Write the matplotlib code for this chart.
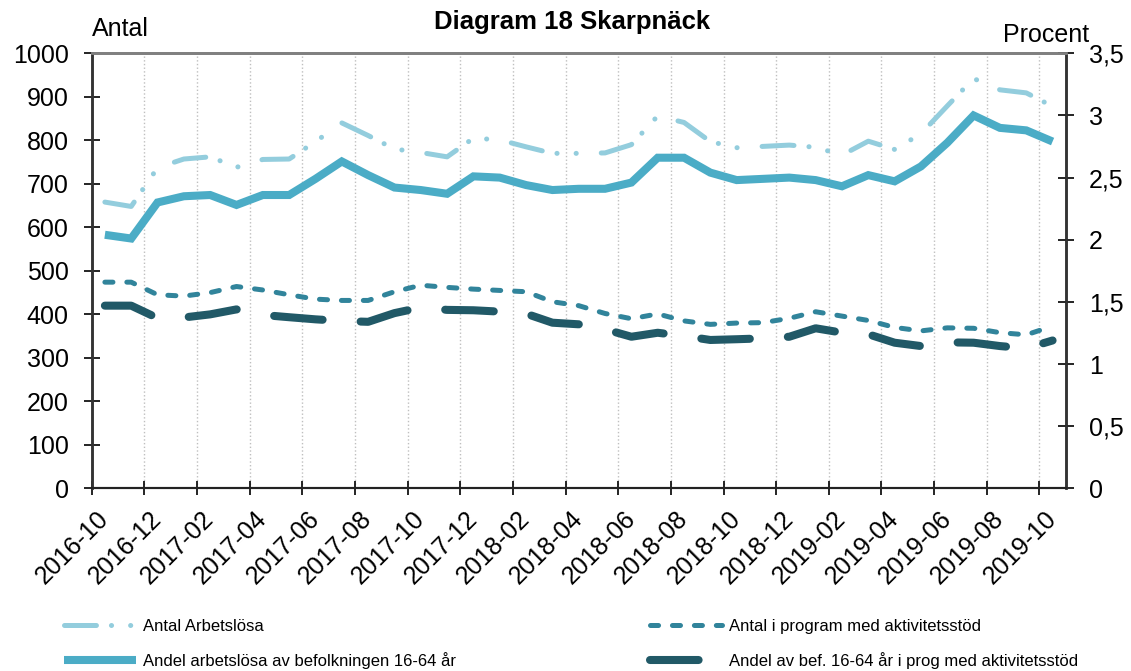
"""
Diagram 18 Skarpnäck - arbetslösa och program med aktivitetsstöd (två y-axlar).
"""

import matplotlib
matplotlib.use("Agg")
import matplotlib.pyplot as plt
from matplotlib.ticker import FuncFormatter, MultipleLocator

# Månader 2016-10 .. 2019-10
manader = [f"{2016 + (9 + i) // 12}-{(9 + i) % 12 + 1:02d}" for i in range(37)]

# Antal (vänster axel)
antal_arbetslosa = [658, 648, 737, 757, 762, 738, 756, 757, 797, 840, 811, 780, 772,
                    762, 805, 801, 785, 770, 770, 771, 790, 856, 841, 797, 783, 786,
                    789, 784, 766, 798, 779, 815, 879, 942, 916, 909, 878]
antal_program = [474, 474, 445, 442, 450, 464, 456, 445, 435, 432, 432, 452, 467,
                 462, 458, 455, 452, 429, 420, 402, 390, 401, 385, 377, 380, 381,
                 391, 406, 396, 386, 370, 362, 369, 368, 358, 353, 373]

# Procent (höger axel)
andel_arbetslosa = [2.04, 2.01, 2.30, 2.35, 2.36, 2.28, 2.36, 2.36, 2.49, 2.63, 2.52,
                    2.42, 2.40, 2.37, 2.51, 2.50, 2.44, 2.40, 2.41, 2.41, 2.46, 2.66,
                    2.66, 2.54, 2.48, 2.49, 2.50, 2.48, 2.43, 2.52, 2.47, 2.59, 2.78,
                    3.00, 2.90, 2.88, 2.79]
andel_program = [1.47, 1.47, 1.37, 1.375, 1.40, 1.44, 1.395, 1.377, 1.36, 1.347, 1.34,
                 1.41, 1.455, 1.436, 1.433, 1.422, 1.405, 1.333, 1.32, 1.28, 1.22,
                 1.252, 1.226, 1.194, 1.20, 1.207, 1.22, 1.288, 1.253, 1.24, 1.172,
                 1.145, 1.175, 1.172, 1.145, 1.127, 1.19]

labels = ["Antal Arbetslösa", "Antal i program med aktivitetsstöd",
          "Andel arbetslösa av befolkningen 16-64 år",
          "Andel av bef. 16-64 år i prog med aktivitetsstöd"]

# Färger
C_LJUS = "#93CDDD"
C_MELLAN = "#4BACC6"
C_TEAL = "#31849B"
C_MORK = "#215967"

plt.rcParams["font.family"] = ["Liberation Sans", "DejaVu Sans"]
plt.rcParams["lines.scale_dashes"] = False

fig = plt.figure(figsize=(11.31, 6.71), dpi=100)
ax = fig.add_axes([0.0811, 0.2721, 0.8612, 0.6485])
ax2 = ax.twinx()

x = list(range(len(manader)))

l1, = ax.plot(x, antal_arbetslosa, color=C_LJUS, lw=3.6,
              linestyle=(0, (23, 10.8, 0.1, 13.7, 0.1, 18)),
              dash_capstyle="round", solid_capstyle="round")
l3, = ax.plot(x, antal_program, color=C_TEAL, lw=3.6,
              linestyle=(0, (5.8, 10)), dash_capstyle="round")
l2, = ax2.plot(x, andel_arbetslosa, color=C_MELLAN, lw=5.8,
               solid_capstyle="butt", solid_joinstyle="miter")
l4, = ax2.plot(x, andel_program, color=C_MORK, lw=5.8,
               linestyle=(0, (35, 27.4)), dash_capstyle="round")

# Axlar
ax.set_xlim(-0.5, len(manader) - 0.5)
ax.set_ylim(0, 1000)
ax2.set_ylim(0, 3.5)
ax.yaxis.set_major_locator(MultipleLocator(100))
ax2.yaxis.set_major_locator(MultipleLocator(0.5))
ax2.yaxis.set_major_formatter(FuncFormatter(lambda v, p: f"{v:g}".replace(".", ",")))

# Kategoriaxel: streck mellan kategorierna, etiketter på varannan månad
ax.set_xticks([i - 0.5 for i in range(0, len(manader) + 1, 2)])
ax.set_xticklabels([])
ax.set_xticks(x[::2], manader[::2], minor=True)
ax.tick_params(axis="x", which="minor", length=0, pad=19, labelsize=18)
for t in ax.get_xticklabels(minor=True):
    t.set_rotation(45)
    t.set_ha("right")
    t.set_va("center")
    t.set_rotation_mode("anchor")
ax.tick_params(axis="x", which="major", direction="inout", length=10, width=1.2)
ax.tick_params(axis="y", direction="inout", length=11, width=1.2, pad=11, labelsize=18)
ax2.tick_params(axis="y", direction="inout", length=11, width=1.2, pad=11, labelsize=18)

ax.grid(axis="x", which="major", color="#BFBFBF", linestyle=":", lw=1)

for a in (ax, ax2):
    a.spines["top"].set_color("#808080")
    a.spines["top"].set_linewidth(2)
    a.spines["left"].set_color("#333333")
    a.spines["left"].set_linewidth(1.8)
    a.spines["right"].set_color("#333333")
    a.spines["right"].set_linewidth(1.8)
    a.spines["bottom"].set_color("#222222")
    a.spines["bottom"].set_linewidth(1.5)

# Rubriker
fig.text(0.506, 0.967, "Diagram 18 Skarpnäck", ha="center", va="center",
         fontsize=18.5, fontweight="bold")
fig.text(0.081, 0.957, "Antal", ha="left", va="center", fontsize=18)
fig.text(0.963, 0.948, "Procent", ha="right", va="center", fontsize=18)

# Förklaring i två kolumner
leg_kw = dict(loc="upper left", frameon=False, fontsize=12, handlelength=4.3,
              handletextpad=0.4, labelspacing=1.1, borderpad=0, borderaxespad=0)
fig.legend([l1, l2], [labels[0], labels[2]], bbox_to_anchor=(0.057, 0.078), **leg_kw)
fig.legend([l3, l4], [labels[1], labels[3]], bbox_to_anchor=(0.575, 0.078), **leg_kw)

plt.savefig("out.png", dpi=100)
plt.close()
